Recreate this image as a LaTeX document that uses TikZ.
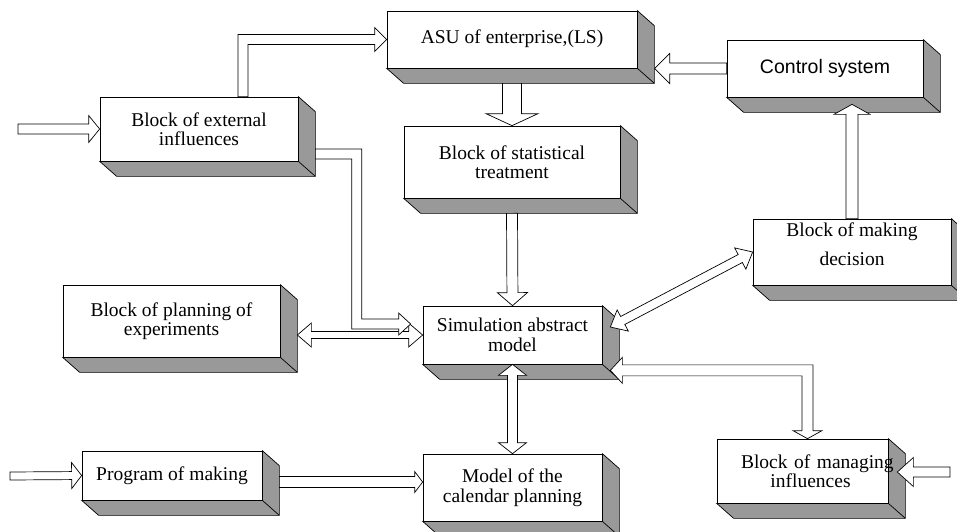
\documentclass[tikz,border=0pt]{standalone}
\usepackage{fontspec}
\setmainfont{Liberation Serif}
\newfontfamily\ctrlfont{Liberation Sans}
\usetikzlibrary{calc, backgrounds}
\definecolor{cSide}{HTML}{999999}
\definecolor{cLine}{HTML}{000000}
\tikzset{
  blockbox/.style={rectangle, draw=cLine, line width=0.7pt, fill=white, inner sep=0pt, align=center},
  boxside/.style={draw=cLine, line width=0.7pt, fill=cSide, line join=miter},
  barrow/.style={draw=cLine, line width=0.7pt, fill=white, line join=miter},
}
% hollow arrows: {from}{to}{shaft half}{head half}{head length}
\newcommand{\blockarrow}[5]{%
  \path ($(#2)!#5!(#1)$) coordinate (hb);
  \filldraw[barrow] ($(#1)!#3!90:(#2)$) -- ($(hb)!#3!90:(#2)$) -- ($(hb)!#4!90:(#2)$) -- (#2)
    -- ($(hb)!#4!-90:(#2)$) -- ($(hb)!#3!-90:(#2)$) -- ($(#1)!#3!-90:(#2)$) -- cycle;
}
\newcommand{\dblarrow}[5]{%
  \path ($(#2)!#5!(#1)$) coordinate (hb) ($(#1)!#5!(#2)$) coordinate (ha);
  \filldraw[barrow] (#1) -- ($(ha)!#4!90:(#2)$) -- ($(ha)!#3!90:(#2)$) -- ($(hb)!#3!90:(#2)$) -- ($(hb)!#4!90:(#2)$) -- (#2)
    -- ($(hb)!#4!-90:(#2)$) -- ($(hb)!#3!-90:(#2)$) -- ($(ha)!#3!-90:(#2)$) -- ($(ha)!#4!-90:(#2)$) -- cycle;
}

\begin{document}
\begin{tikzpicture}[x=1pt, y=-1pt, font=\fontsize{19.5}{19.5}\selectfont]
\useasboundingbox (0,0) rectangle (957,531);
% blocks
\node[blockbox, minimum width=250pt, minimum height=57pt, text depth=6pt] (asu) at (512,39.5) {ASU of enterprise,(LS)};
\node[blockbox, minimum width=198pt, minimum height=64pt] (ext) at (199,129) {Block of external\\ influences};
\node[blockbox, minimum width=196pt, minimum height=57pt, font=\ctrlfont\fontsize{19.5}{19.5}\selectfont] (ctrl) at (825,68.5) {Control system};
\node[blockbox, minimum width=216pt, minimum height=72pt] (stat) at (512,162) {Block of statistical\\ treatment};
\node[blockbox, minimum width=198pt, minimum height=66pt, text depth=16pt] (dec) at (852,252) {Block of making\\[9pt] decision};
\node[blockbox, minimum width=217pt, minimum height=72pt] (plan) at (171.5,321) {Block of planning of\\ experiments};
\node[blockbox, minimum width=179pt, minimum height=58pt] (sim) at (512.5,335) {Simulation abstract\\ model};
\node[blockbox, minimum width=180pt, minimum height=49pt] (prog) at (172,475.5) {Program of making};
\node[blockbox, minimum width=179pt, minimum height=67pt] (cal) at (512.5,487.5) {Model of the\\ calendar planning};
\node[blockbox, text width=171pt, minimum height=64pt] (mng) at (802.5,471) {\hspace*{24pt}\mbox{Block of managing}\\ \hspace*{16pt}influences};
% 3d sides
\begin{scope}[on background layer]
\foreach \blk in {asu,ext,ctrl,stat,dec,plan,sim,prog,cal,mng}{
  \filldraw[boxside] (\blk.south west) -- ++(17,15) -- ($(\blk.south east)+(17,15)$) -- ($(\blk.north east)+(17,15)$)
    -- (\blk.north east) -- (\blk.south east) -- cycle;
  \draw[boxside] (\blk.south east) -- ++(17,15);
}
\end{scope}
% free ends and bends
\coordinate (in1) at (18,129);
\coordinate (in2) at (10,476);
\coordinate (in3) at (950,472);
\coordinate (extup) at ($(ext.north)+(44,0)$);
\coordinate (extout) at ($(ext.east)+(17,25)$);
\coordinate (simin) at ($(sim.west)+(-12,-11)$);
\coordinate (extbend) at ($(simin)+(-54,0)$);
\coordinate (planout) at ($(plan.east)+(17,14)$);
\coordinate (asuout) at ($(asu.south)+(0,15)$);
\coordinate (statout) at ($(stat.south)+(0,15)$);
\coordinate (asuin) at ($(ctrl.west)+(-72,0)$);
\coordinate (ctrlin) at ($(ctrl.south)+(27,7)$);
\coordinate (simside) at ($(sim.east)+(8,-8)$);
\coordinate (simlow) at ($(sim.south east)+(8,6)$);
\coordinate (mngin) at ($(mng.north)+(5,0)$);
\coordinate (progout) at ($(prog.east)+(17,6.5)$);
\coordinate (calin) at ($(cal.west)+(0,-5.5)$);
\coordinate (mngside) at ($(mng.east)+(9,1)$);
% straight arrows
\blockarrow{in1}{ext.west}{5pt}{13.5pt}{11pt}
\blockarrow{asuout}{stat.north}{9.5pt}{26pt}{12pt}
\blockarrow{statout}{sim.north}{5.5pt}{15pt}{13pt}
\blockarrow{ctrl.west}{asuin}{5.5pt}{15pt}{15pt}
\blockarrow{dec.north}{ctrlin}{6pt}{18pt}{10pt}
\blockarrow{in2}{prog.west}{4pt}{13pt}{10pt}
\blockarrow{progout}{calin}{5.5pt}{10.5pt}{8pt}
\blockarrow{in3}{mngside}{5pt}{14.5pt}{16pt}
\dblarrow{planout}{sim.west}{3.5pt}{12pt}{14pt}
\dblarrow{simside}{dec.west}{4.5pt}{12pt}{14pt}
\dblarrow{sim.south}{cal.north}{5pt}{14pt}{11pt}
% bent arrows
\filldraw[barrow] ($(extup)+(-5,0)$) -- ($(extup |- asu.west)+(-5,-5)$) -- ($(asu.west)+(-12,-5)$) -- ($(asu.west)+(-12,-12)$)
  -- (asu.west) -- ($(asu.west)+(-12,12)$) -- ($(asu.west)+(-12,5)$) -- ($(extup |- asu.west)+(5,5)$) -- ($(extup)+(5,0)$) -- cycle;
\filldraw[barrow] ($(extout)+(0,-5)$) -- ($(extbend |- extout)+(5,-5)$) -- ($(extbend)+(5,-5)$) -- ($(simin)+(-12,-5)$)
  -- ($(simin)+(-12,-11)$) -- (simin) -- ($(simin)+(-12,11)$) -- ($(simin)+(-12,5)$) -- ($(extbend)+(-5,5)$)
  -- ($(extbend |- extout)+(-5,5)$) -- ($(extout)+(0,5)$) -- cycle;
\filldraw[barrow] (simlow) -- ($(simlow)+(12,-13)$) -- ($(simlow)+(12,-5.5)$) -- ($(mngin |- simlow)+(5.5,-5.5)$)
  -- ($(mngin)+(5.5,-8)$) -- ($(mngin)+(14.5,-8)$) -- (mngin) -- ($(mngin)+(-14.5,-8)$) -- ($(mngin)+(-5.5,-8)$)
  -- ($(mngin |- simlow)+(-5.5,5.5)$) -- ($(simlow)+(12,5.5)$) -- ($(simlow)+(12,13)$) -- cycle;
\end{tikzpicture}
\end{document}
